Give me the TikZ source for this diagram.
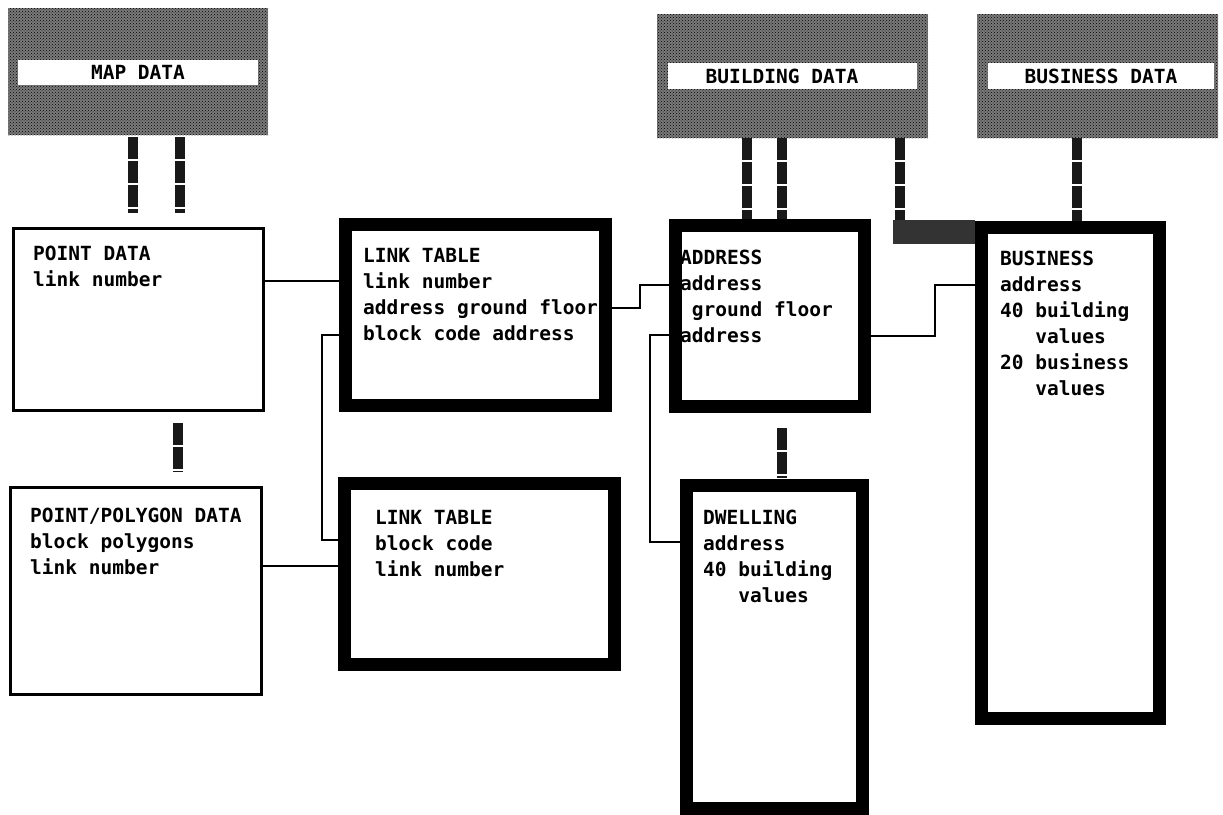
\documentclass[tikz,border=0pt]{standalone}
\usepackage{fontspec}
\newfontfamily\plotfont{DejaVu Sans Mono}
\usetikzlibrary{patterns}
\tikzset{
  thinbox/.style={draw=black, line width=3pt, fill=white, inner sep=0pt},
  thickbox/.style={draw=black, line width=13pt, fill=white, inner sep=0pt},
  databox/.style={draw=none, fill=black!52, postaction={pattern=crosshatch dots, pattern color=black}, inner sep=0pt},
  band/.style={draw=none, fill=white, inner sep=0pt},
  txt/.style={font=\plotfont\bfseries\fontsize{19.5}{26}\selectfont, inner sep=0pt, anchor=north west, align=left},
  title/.style={font=\plotfont\bfseries\fontsize{19.5}{26}\selectfont, inner sep=0pt},
  link/.style={draw=black, line width=2.5pt},
  stub/.style={draw=black!90, line width=10pt, dash pattern=on 22pt off 2pt},
  bandlink/.style={draw=black!80, line width=24pt},
}
\begin{document}
\begin{tikzpicture}[x=1pt,y=-1pt]
\useasboundingbox (0,0) rectangle (1223,814);
\fill[white] (0,0) rectangle (1223,814);

% data sources (shaded)
\node[databox, minimum width=260, minimum height=127] (map) at (138,71.5) {};
\node[databox, minimum width=271, minimum height=124] (bld) at (792.5,76) {};
\node[databox, minimum width=241, minimum height=124] (busd) at (1097.5,76) {};
\node[band, minimum width=240, minimum height=25] (mapband) at (138,72.5) {};
\node[band, minimum width=249, minimum height=26] (bldband) at (792.5,76) {};
\node[band, minimum width=226, minimum height=26] (busdband) at (1101,76) {};
\node[title] (maptxt) at (138,72.5) {MAP DATA};
\node[title] (bldtxt) at (782,76) {BUILDING DATA};
\node[title] (busdtxt) at (1101,76) {BUSINESS DATA};

% table boxes
\node[thinbox, minimum width=250, minimum height=182] (pd) at (138.5,319.5) {};
\node[thinbox, minimum width=251, minimum height=207] (ppd) at (136,591) {};
\node[thickbox, minimum width=260, minimum height=181] (lt1) at (475.5,315) {};
\node[thickbox, minimum width=270, minimum height=181] (lt2) at (479.5,574) {};
\node[thickbox, minimum width=189, minimum height=181] (addr) at (770,316) {};
\node[thickbox, minimum width=176, minimum height=323] (dw) at (774.5,647) {};
\node[thickbox, minimum width=178, minimum height=491] (bus) at (1070.5,473) {};

% helper coordinates
\coordinate (m1) at (133,0);
\coordinate (m2) at (180,0);
\coordinate (m3) at (178,0);
\coordinate (k1) at (747,0);
\coordinate (k2) at (782,0);
\coordinate (k3) at (1077,0);
\coordinate (bendB) at (900,232);
\coordinate (bendBlow) at (900,244);
\coordinate (bendBleft) at (893,232);
\coordinate (y281) at (0,281);
\coordinate (y566) at (0,566);
\coordinate (b1) at (322,335);
\coordinate (b2) at (322,540);
\coordinate (b3) at (640,308);
\coordinate (b4) at (640,285);
\coordinate (b5) at (650,335);
\coordinate (b6) at (650,542);
\coordinate (b7) at (935,336);
\coordinate (b8) at (935,285);

% shaded stubs
\draw[stub, shorten <=2pt, shorten >=14pt] (map.south -| m1) -- (pd.north -| m1);
\draw[stub, shorten <=2pt, shorten >=14pt] (map.south -| m2) -- (pd.north -| m2);
\draw[stub, shorten <=11pt, shorten >=14pt] (pd.south -| m3) -- (ppd.north -| m3);
\draw[stub] (bld.south -| k1) -- (addr.north -| k1);
\draw[stub] (bld.south -| k2) -- (addr.north -| k2);
\draw[stub, shorten <=15pt, shorten >=1pt] (addr.south -| k2) -- (dw.north -| k2);
\draw[stub] (busd.south -| k3) -- (bus.north -| k3);
\draw[stub] (bld.south -| bendB) -- (bendBlow);
\draw[bandlink] (bendBleft) -- (bus.west |- bendB);

% thin connectors
\draw[link] (pd.east |- y281) -- (lt1.west |- y281);
\draw[link] (lt1.west |- b1) -- (b1) -- (b2) -- (lt2.west |- b2);
\draw[link] (ppd.east |- y566) -- (lt2.west |- y566);
\draw[link] (lt1.east |- b3) -- (b3) -- (b4) -- (addr.west |- b4);
\draw[link] (addr.west |- b5) -- (b5) -- (b6) -- (dw.west |- b6);
\draw[link] (addr.east |- b7) -- (b7) -- (b8) -- (bus.west |- b8);

% texts
\node[txt] (pdtxt) at (33,246) {POINT DATA\\link number};
\node[txt] (lt1txt) at (363,248) {LINK TABLE\\link number\\address ground floor\\block code address};
\node[txt] (addrtxt) at (680,250) {ADDRESS\\address\\\phantom{a}ground floor\\address};
\node[txt] (bustxt) at (1000,251) {BUSINESS\\address\\40 building\\\phantom{aaa}values\\20 business\\\phantom{aaa}values};
\node[txt] (ppdtxt) at (30,508) {POINT/POLYGON DATA\\block polygons\\link number};
\node[txt] (lt2txt) at (375,510) {LINK TABLE\\block code\\link number};
\node[txt] (dwtxt) at (703,510) {DWELLING\\address\\40 building\\\phantom{aaa}values};
\end{tikzpicture}
\end{document}
